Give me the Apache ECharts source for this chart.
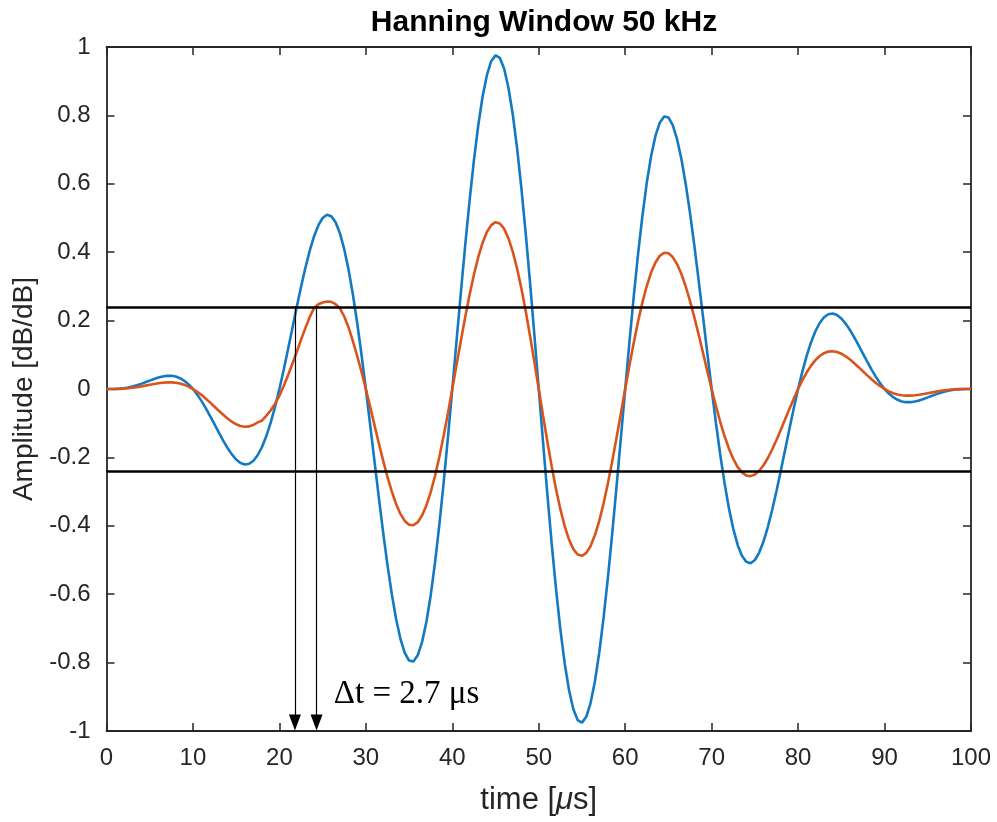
<!DOCTYPE html>
<html>
<head>
<meta charset="utf-8">
<script src="https://cdn.jsdelivr.net/npm/echarts@6/dist/echarts.min.js"></script>
<style>
  html, body { margin: 0; padding: 0; background: #fff; }
  #hanningChart { width: 997px; height: 822px; }
</style>
</head>
<body>
<div id="hanningChart"></div>
<script>
// sample times, microseconds (0 .. 100 every 0.5)
var timeUs = Array.from({ length: 201 }, function (_, i) { return i / 2; });
// blue trace
var blueAmp = [
    0, 0.0000, 0.0003, 0.0010, 0.0023, 0.0044, 0.0072, 0.0107, 0.0149, 0.0196,
    0.0245, 0.0292, 0.0334, 0.0366, 0.0385, 0.0385, 0.0364, 0.0316, 0.0241, 0.0135,
    0, -0.0164, -0.0355, -0.0567, -0.0797, -0.1036, -0.1276, -0.1509, -0.1724, -0.1912,
    -0.2061, -0.2163, -0.2207, -0.2187, -0.2096, -0.1930, -0.1688, -0.1368, -0.0976, -0.0517,
    0, 0.0564, 0.1161, 0.1775, 0.2388, 0.2982, 0.3538, 0.4036, 0.4457, 0.4783,
    0.5, 0.5094, 0.5054, 0.4874, 0.4552, 0.4089, 0.3490, 0.2765, 0.1929, 0.1000,
    0, -0.1047, -0.2114, -0.3171, -0.4190, -0.5141, -0.5994, -0.6723, -0.7304, -0.7714,
    -0.7939, -0.7965, -0.7787, -0.7401, -0.6814, -0.6036, -0.5081, -0.3973, -0.2736, -0.1400,
    0, 0.1429, 0.2850, 0.4224, 0.5515, 0.6686, 0.7705, 0.8544, 0.9177, 0.9585,
    0.9755, 0.9681, 0.9362, 0.8803, 0.8018, 0.7028, 0.5855, 0.4530, 0.3087, 0.1564,
    0, -0.1564, -0.3087, -0.4530, -0.5855, -0.7028, -0.8018, -0.8803, -0.9362, -0.9681,
    -0.9755, -0.9585, -0.9177, -0.8544, -0.7705, -0.6686, -0.5515, -0.4224, -0.2850, -0.1429,
    0, 0.1400, 0.2736, 0.3973, 0.5081, 0.6036, 0.6814, 0.7401, 0.7787, 0.7965,
    0.7939, 0.7714, 0.7304, 0.6723, 0.5994, 0.5141, 0.4190, 0.3171, 0.2114, 0.1047,
    0, -0.1000, -0.1929, -0.2765, -0.3490, -0.4089, -0.4552, -0.4874, -0.5054, -0.5094,
    -0.5, -0.4783, -0.4457, -0.4036, -0.3538, -0.2982, -0.2388, -0.1775, -0.1161, -0.0564,
    0, 0.0517, 0.0976, 0.1368, 0.1688, 0.1930, 0.2096, 0.2187, 0.2207, 0.2163,
    0.2061, 0.1912, 0.1724, 0.1509, 0.1276, 0.1036, 0.0797, 0.0567, 0.0355, 0.0164,
    0, -0.0135, -0.0241, -0.0316, -0.0364, -0.0385, -0.0385, -0.0366, -0.0334, -0.0292,
    -0.0245, -0.0196, -0.0149, -0.0107, -0.0072, -0.0044, -0.0023, -0.0010, -0.0003, 0.0000,
    0
];
// orange trace
var orangeAmp = [
    0, 0, 0.0002, 0.0005, 0.0012, 0.0022, 0.0036, 0.0054, 0.0075, 0.0098,
    0.0122, 0.0146, 0.0167, 0.0183, 0.0193, 0.0193, 0.0182, 0.0158, 0.0121, 0.0068,
    0, -0.0082, -0.0178, -0.0284, -0.0399, -0.0518, -0.0638, -0.0755, -0.0862, -0.0956,
    -0.1031, -0.1082, -0.1104, -0.1094, -0.1048, -0.0975, -0.092, -0.078, -0.062, -0.043,
    -0.020, 0.009, 0.040, 0.074, 0.108, 0.144, 0.178, 0.210, 0.236, 0.248,
    0.253, 0.256, 0.255, 0.248, 0.236, 0.212, 0.180, 0.140, 0.0965, 0.0500,
    0, -0.0524, -0.1057, -0.1586, -0.2095, -0.2571, -0.2997, -0.3362, -0.3652, -0.3857,
    -0.3970, -0.3983, -0.3894, -0.3701, -0.3407, -0.3018, -0.2541, -0.1987, -0.1368, -0.0700,
    0, 0.0715, 0.1425, 0.2112, 0.2758, 0.3343, 0.3853, 0.4272, 0.4589, 0.4793,
    0.4878, 0.4841, 0.4681, 0.4402, 0.4009, 0.3514, 0.2928, 0.2265, 0.1544, 0.0782,
    0, -0.0782, -0.1544, -0.2265, -0.2928, -0.3514, -0.4009, -0.4402, -0.4681, -0.4841,
    -0.4878, -0.4793, -0.4589, -0.4272, -0.3853, -0.3343, -0.2758, -0.2112, -0.1425, -0.0715,
    0, 0.0700, 0.1368, 0.1987, 0.2541, 0.3018, 0.3407, 0.3701, 0.3894, 0.3983,
    0.3970, 0.3857, 0.3652, 0.3362, 0.2997, 0.2571, 0.2095, 0.1586, 0.1057, 0.0524,
    0, -0.0500, -0.0965, -0.1383, -0.1745, -0.2045, -0.2276, -0.2437, -0.2527, -0.2547,
    -0.25, -0.2392, -0.2229, -0.2018, -0.1769, -0.1491, -0.1194, -0.0888, -0.0581, -0.0282,
    0, 0.0259, 0.0488, 0.0684, 0.0844, 0.0965, 0.1048, 0.1094, 0.1104, 0.1082,
    0.1031, 0.0956, 0.0862, 0.0755, 0.0638, 0.0518, 0.0399, 0.0284, 0.0178, 0.0082,
    0, -0.0068, -0.0121, -0.0158, -0.0182, -0.0193, -0.0193, -0.0183, -0.0167, -0.0146,
    -0.0122, -0.0098, -0.0075, -0.0054, -0.0036, -0.0022, -0.0012, -0.0005, -0.0002, 0,
    0
];
// threshold levels and arrow annotation
var thresholds = [0.243, -0.243];
var arrowTimes = [21.8, 24.3];
var arrowTop = 0.243;
var arrowEnd = -0.975;
var deltaText = 'Δt = 2.7 μs';
var deltaPos = [26.3, -0.892];

var chart = echarts.init(document.getElementById('hanningChart'));
var axisColor = '#262626';
var font = 'Liberation Sans, Arial, sans-serif';

function pairs(vals) {
    return timeUs.map(function (t, i) { return [t, vals[i]]; });
}

var xBase = {
    type: 'value', min: 0, max: 100, interval: 10,
    axisLine: { show: true, onZero: false, lineStyle: { color: axisColor, width: 1.8 } },
    axisTick: { show: true, inside: true, length: 8, lineStyle: { color: axisColor, width: 1.5 } },
    splitLine: { show: false }
};
var yBase = {
    type: 'value', min: -1, max: 1, interval: 0.2,
    axisLine: { show: true, onZero: false, lineStyle: { color: axisColor, width: 1.8 } },
    axisTick: { show: true, inside: true, length: 8, lineStyle: { color: axisColor, width: 1.5 } },
    splitLine: { show: false }
};

var option = {
    backgroundColor: '#fff',
    animation: false,
    title: {
        text: 'Hanning Window 50 kHz',
        left: 539, top: 3, textAlign: 'center',
        textStyle: { fontFamily: font, fontSize: 30, fontWeight: 'bold', color: '#000' }
    },
    grid: { left: 106.5, right: 26, top: 47, bottom: 91 },
    xAxis: [
        Object.assign({}, xBase, {
            position: 'bottom',
            name: 'time [{i|μ}s]',
            nameLocation: 'middle', nameGap: 54,
            nameTextStyle: {
                fontFamily: font, fontSize: 31, color: axisColor,
                rich: { i: { fontFamily: font, fontSize: 31, fontStyle: 'italic', color: axisColor } }
            },
            axisLabel: { fontFamily: font, fontSize: 24, color: axisColor, margin: 15 }
        }),
        Object.assign({}, xBase, { position: 'top', axisLabel: { show: false } })
    ],
    yAxis: [
        Object.assign({}, yBase, {
            position: 'left',
            name: 'Amplitude [dB/dB]',
            nameLocation: 'middle', nameGap: 67,
            nameTextStyle: { fontFamily: font, fontSize: 28, color: axisColor },
            axisLabel: {
                fontFamily: font, fontSize: 24, color: axisColor, margin: 16,
                formatter: function (v) { return String(+v.toFixed(1)); }
            }
        }),
        Object.assign({}, yBase, { position: 'right', axisLabel: { show: false } })
    ],
    series: [
        {
            name: 'blue', type: 'line', data: pairs(blueAmp), smooth: false,
            showSymbol: false, lineStyle: { color: '#1279c2', width: 2.6 }, z: 3
        },
        {
            name: 'orange', type: 'line', data: pairs(orangeAmp), smooth: false,
            showSymbol: false, lineStyle: { color: '#d9541c', width: 2.6 }, z: 4
        },
        {
            name: 'marks', type: 'line', data: [], z: 5,
            markLine: {
                silent: true, symbol: 'none', animation: false,
                label: { show: false },
                lineStyle: { color: '#000', width: 2.6, type: 'solid' },
                data: thresholds.map(function (v) { return { yAxis: v }; })
            }
        },
        {
            name: 'arrows', type: 'line', data: [], z: 6,
            markLine: {
                silent: true, animation: false,
                symbol: ['none', 'triangle'], symbolSize: [12, 16],
                label: { show: false },
                lineStyle: { color: '#000', width: 1.2, type: 'solid' },
                data: arrowTimes.map(function (t) {
                    return [{ coord: [t, arrowTop] }, { coord: [t, arrowEnd] }];
                })
            },
            markPoint: {
                silent: true, animation: false,
                symbol: 'circle', symbolSize: 0,
                label: {
                    show: true, position: 'right', distance: 0,
                    fontFamily: 'Liberation Serif, DejaVu Serif, serif', fontSize: 33, color: '#000',
                    formatter: deltaText
                },
                data: [{ coord: deltaPos }]
            }
        }
    ]
};
chart.setOption(option);
</script>
</body>
</html>
